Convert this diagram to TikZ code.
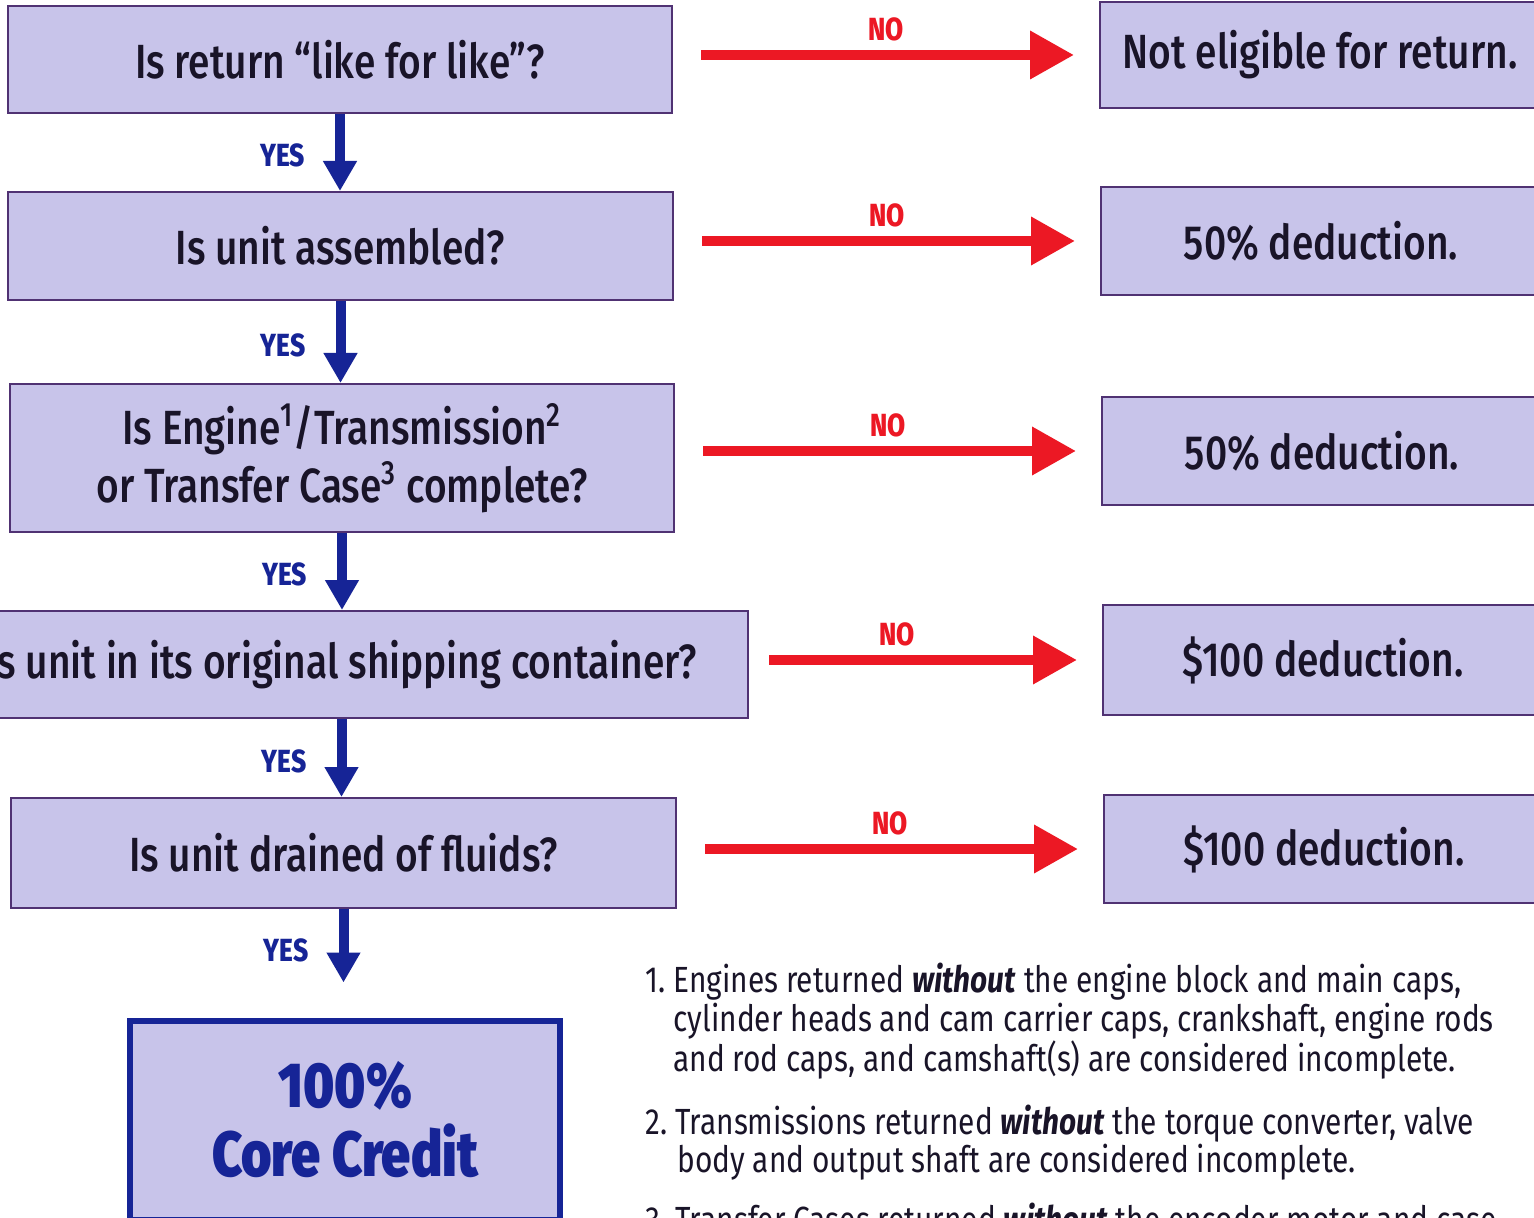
\documentclass[tikz,border=0pt]{standalone}
\usepackage{fontspec}
\setmainfont{Fira Sans}[FakeStretch=0.82]
\newfontfamily\medfont{Fira Sans Medium}[FakeStretch=0.81]
\newfontfamily\heavyfont{Fira Sans Black}[FakeStretch=0.82]
\newfontfamily\lblfont{Fira Sans ExtraBold}[FakeStretch=0.82]
\usetikzlibrary{arrows.meta}
\definecolor{boxfill}{RGB}{200,196,234}
\definecolor{boxline}{RGB}{80,50,115}
\definecolor{navy}{RGB}{22,36,150}
\definecolor{redarr}{RGB}{236,24,36}
\definecolor{ink}{RGB}{25,20,40}
\begin{document}
\begin{tikzpicture}[x=0.5pt,y=-0.5pt,
  qbox/.style={draw=boxline, line width=1pt, fill=boxfill, inner sep=0pt, text=ink,
    font=\medfont\fontsize{24}{29}\selectfont, align=center},
  rbox/.style={qbox, minimum width=220pt},
  endbox/.style={draw=navy, line width=3pt, fill=boxfill, inner sep=0pt, text=navy,
    font=\heavyfont\fontsize{31.8}{34.5}\selectfont, align=center},
  yesarr/.style={draw=navy, line width=5pt, -{Triangle[length=15pt,width=16pt]}},
  noarr/.style={draw=redarr, line width=5pt, -{Triangle[length=22pt,width=23pt]},
    shorten <=14pt, shorten >=12.5pt},
  yeslbl/.style={text=navy, inner sep=0pt, font=\lblfont\fontsize{16}{16}\selectfont},
  nolbl/.style={text=redarr, inner sep=0pt, font=\lblfont\fontsize{16}{16}\selectfont},
  foot/.style={text=ink, inner sep=0pt, align=left, font=\fontsize{18.2}{17.6}\selectfont},
]
\useasboundingbox (0,0) rectangle (1534,1218);
\clip (0,0) rectangle (1534,1218);
\fill[white] (0,0) rectangle (1534,1218);

% question boxes
\node[qbox, minimum width=332pt, minimum height=53.5pt] (q1) at (340,59.5) {Is return “like for like”?};
\node[qbox, minimum width=332.5pt, minimum height=54pt] (q2) at (340.5,246) {Is unit assembled?};
\node[qbox, minimum width=332pt, minimum height=74pt] (q3) at (342,458)
  {Is Engine\textsuperscript{1}/Transmission\textsuperscript{2}\\or Transfer Case\textsuperscript{3} complete?};
\node[qbox, minimum width=406.5pt, minimum height=53.5pt] (q4) at (341.5,664.5) {Is unit in its original shipping container?};
\node[qbox, minimum width=332.5pt, minimum height=55pt] (q5) at (343.5,853) {Is unit drained of fluids?};
\node[endbox, minimum width=215pt, minimum height=99.5pt] (q6) at (345,1120) {100\%\\Core Credit};

% result boxes
\node[rbox, minimum height=53pt] (r1) at (1320,55) {Not eligible for return.};
\node[rbox, minimum height=54pt] (r2) at (1321,241) {50\% deduction.};
\node[rbox, minimum height=54pt] (r3) at (1322,451) {50\% deduction.};
\node[rbox, minimum height=55pt] (r4) at (1323,660) {\$100 deduction.};
\node[rbox, minimum height=54pt] (r5) at (1324,849) {\$100 deduction.};

% yes arrows
\draw[yesarr] (q1.south) -- (q1.south |- q2.north) node[yeslbl, midway, left=15pt, yshift=-1.5pt] {YES};
\draw[yesarr] (q2.south) -- (q2.south |- q3.north) node[yeslbl, midway, left=15pt, yshift=-1.5pt] {YES};
\draw[yesarr] (q3.south) -- (q3.south |- q4.north) node[yeslbl, midway, left=15pt, yshift=-1.5pt] {YES};
\draw[yesarr] (q4.south) -- (q4.south |- q5.north) node[yeslbl, midway, left=15pt, yshift=-1.5pt] {YES};
\draw[yesarr, shorten >=17.5pt] (q5.south) -- (q5.south |- q6.north) node[yeslbl, pos=0.35, left=15pt, yshift=-1.5pt] {YES};

% no arrows
\draw[noarr] (q1.east |- r1.west) -- (r1.west) node[nolbl, midway, above=4.5pt] {NO};
\draw[noarr] (q2.east |- r2.west) -- (r2.west) node[nolbl, midway, above=4.5pt] {NO};
\draw[noarr] (q3.east |- r3.west) -- (r3.west) node[nolbl, midway, above=4.5pt] {NO};
\draw[noarr, shorten <=10pt] (q4.east |- r4.west) -- (r4.west) node[nolbl, pos=0.42, above=4.5pt] {NO};
\draw[noarr] (q5.east |- r5.west) -- (r5.west) node[nolbl, midway, above=4.5pt] {NO};

% footnotes
\node[foot, anchor=north west] (fn) at (645,963) {%
1.~Engines returned \textbf{\textit{without}} the engine block and main caps,\\
\hspace*{14pt}cylinder heads and cam carrier caps, crankshaft, engine rods\\
\hspace*{14pt}and rod caps, and camshaft(s) are considered incomplete.\\[12pt]
2.~Transmissions returned \textbf{\textit{without}} the torque converter, valve\\
\hspace*{16pt}body and output shaft are considered incomplete.\\[10pt]
3.~Transfer Cases returned \textbf{\textit{without}} the encoder motor and case};
\end{tikzpicture}
\end{document}
